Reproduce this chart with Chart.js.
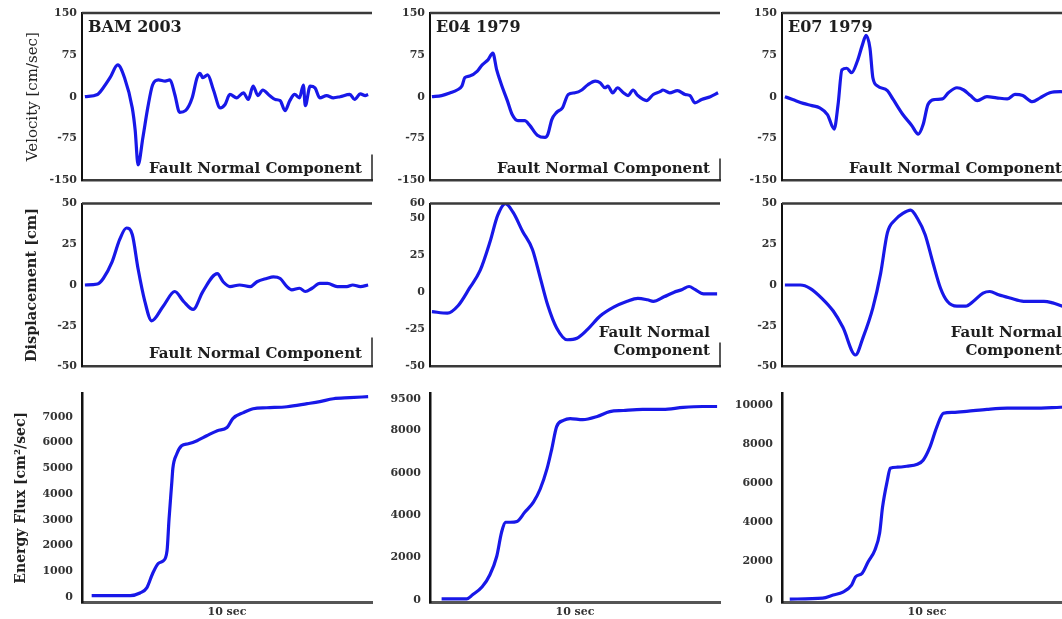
<!DOCTYPE html>
<html>
<head>
<meta charset="utf-8">
<script src="https://cdn.jsdelivr.net/npm/chart.js"></script>
<style>
  html, body { margin: 0; padding: 0; background: #fff; }
  body { width: 1062px; height: 619px; overflow: hidden; position: relative; }
  canvas { position: absolute; }
</style>
</head>
<body>
<canvas id="c11"></canvas><canvas id="c12"></canvas><canvas id="c13"></canvas>
<canvas id="c21"></canvas><canvas id="c22"></canvas><canvas id="c23"></canvas>
<canvas id="c31"></canvas><canvas id="c32"></canvas><canvas id="c33"></canvas>
<script>
// ---- data (time in sec) ----
const stations = ["BAM 2003", "E04 1979", "E07 1979"];

const bamVelT = [0.3,1.6,2.2,2.9,3.7,4.4,5.2,5.5,5.8,6.3,6.8,7.3,7.9,8.6,9.1,9.6,10.1,10.7,11.4,11.9,12.2,12.5,13.0,13.6,14.3,14.8,15.3,16.0,16.7,17.2,17.7,18.2,18.7,19.4,20.0,20.5,21.0,21.5,22.0,22.5,22.9,23.1,23.6,24.1,24.6,25.3,26.0,26.7,27.7,28.2,28.8,29.3,29.6];
const bamVel  = [0,4,16,34,57,34,-20,-60,-122,-73,-20,21,30,28,30,4,-28,-25,-2,34,42,34,39,12,-20,-14,4,-2,7,-5,19,2,12,2,-5,-7,-25,-7,4,-2,21,-16,19,16,-2,2,-2,0,4,-5,5,2,4];

const bamDispT = [0.3,1.6,2.2,3.1,3.9,4.6,5.2,5.8,6.5,7.2,8.4,9.6,10.5,11.5,12.5,14.0,14.6,15.3,16.3,17.4,18.1,19.1,19.8,20.5,21.2,21.7,22.5,23.1,23.8,24.6,25.4,26.4,27.4,28.0,28.8,29.6];
const bamDisp  = [0,0.6,4,14,28,35,31,10,-10,-22,-13,-4,-10,-15,-4,7,2,-1,0,-1,2,4,5,4,-1,-3,-2,-4,-2,1,1,-1,-1,0,-1,0];

const bamFluxT = [1.0,5.0,6.0,6.7,7.3,7.9,8.4,8.8,9.0,9.3,9.4,9.8,10.3,11.0,11.9,12.9,14.0,15.0,15.6,16.7,17.7,19.1,21.2,23.3,24.6,26.0,27.7,29.6];
const bamFlux  = [50,50,150,350,900,1300,1400,1800,3000,4500,5000,5550,5870,5950,6070,6260,6460,6580,6930,7160,7310,7350,7390,7510,7590,7700,7740,7780];

const e04VelT = [0.2,1.2,2.1,2.8,3.3,3.6,4.1,4.9,5.4,6.0,6.5,6.9,7.4,8.0,8.5,9.1,9.8,10.3,11.1,11.9,12.2,12.6,13.1,13.7,14.3,15.0,15.7,16.3,17.1,17.6,18.1,18.4,18.9,19.4,20.0,20.5,21.0,21.5,22.4,23.1,23.8,24.1,24.8,25.6,26.4,26.9,27.4,28.1,29.0,29.8];
const e04Vel  = [0,2,7,12,19,34,37,46,57,66,78,48,21,-7,-32,-43,-43,-51,-69,-73,-67,-41,-28,-20,4,7,12,21,28,25,16,19,7,16,7,2,12,2,-7,4,9,12,7,11,4,2,-11,-5,0,7];

const e04DispT = [0.2,1.8,2.9,4.1,5.2,6.2,7.0,7.8,8.6,9.6,10.6,11.4,12.2,13.1,14.2,15.2,16.3,17.6,19.0,20.4,21.5,22.5,23.1,24.2,25.2,26.1,26.8,27.4,28.3,29.7];
const e04Disp  = [-13,-14,-9,3,15,34,52,60,54,41,29,10,-9,-24,-32,-31,-25,-16,-10,-6,-4,-5,-6,-3,0,2,4,2,-1,-1];

const e04FluxT = [1.2,3.8,4.4,5.4,6.2,6.9,7.4,7.8,8.3,9.0,9.8,10.7,11.4,12.1,12.6,13.1,13.8,14.5,15.8,17.3,18.6,20.0,22.0,24.1,26.2,28.2,29.7];
const e04Flux  = [50,50,240,620,1190,2050,3190,3670,3670,3710,4140,4620,5240,6190,7140,8190,8480,8570,8520,8670,8900,8950,9000,9000,9100,9140,9140];

const e07VelT = [0.3,1.1,2.2,3.1,3.9,4.7,5.4,5.8,6.2,6.7,7.2,7.8,8.3,8.7,9.1,9.4,9.9,10.9,11.5,12.5,13.4,14.1,14.6,15.1,15.8,16.6,17.2,18.1,18.8,19.5,20.2,21.2,22.2,23.3,24.1,24.9,25.9,26.7,27.7,28.8,29.7];
const e07Vel  = [0,-5,-12,-16,-20,-32,-58,-14,48,51,43,64,92,110,87,34,19,11,-5,-32,-51,-67,-50,-14,-5,-4,7,16,12,2,-7,0,-2,-4,4,2,-9,-2,7,9,8];

const e07DispT = [0.3,1.9,2.9,4.1,5.3,6.3,7.6,8.4,9.4,10.2,10.9,11.7,12.5,13.3,14.0,14.8,15.6,16.4,17.1,18.1,19.0,19.8,20.8,21.5,22.4,23.6,25.0,26.0,27.1,28.0,29.0,29.8];
const e07Disp  = [0,0,-2,-8,-16,-26,-43,-32,-14,7,32,40,44,46,41,31,14,-2,-10,-13,-13,-10,-5,-4,-6,-8,-10,-10,-10,-11,-13,-14];

const e07FluxT = [0.8,4.2,5.3,6.3,7.2,7.6,8.3,8.9,9.6,10.1,10.4,10.9,11.2,11.9,12.9,14.0,14.6,15.3,16.0,16.7,17.7,19.1,21.2,23.3,26.0,28.8,29.8];
const e07Flux  = [50,100,260,410,770,1180,1380,1950,2560,3440,4770,6150,6770,6820,6870,6970,7180,7850,8870,9590,9640,9690,9790,9850,9850,9900,9920];

// tick labels
const velTicks = [-150, -75, 0, 75, 150];
const dispTicks = [-50, -25, 0, 25, 50];
const dispTicksE04 = [-50, -25, 0, 25, 50, 60];
const fluxTicksBam = [0, 1000, 2000, 3000, 4000, 5000, 6000, 7000];
const fluxTicksE04 = [0, 2000, 4000, 6000, 8000, 9500];
const fluxTicksE07 = [0, 2000, 4000, 6000, 8000, 10000];

const yTitles = ["Velocity [cm/sec]", "Displacement [cm]", "Energy Flux [cm\u00b2/sec]"];
const compLabel = "Fault Normal Component";
const timeLabel = "10 sec";

Chart.defaults.font.family = '"DejaVu Serif", serif';
Chart.defaults.color = '#2a2a2a';

const LINE = '#1818e8';

// frame top line, partial right edge and text inside the plot
const panelText = {
  id: 'panelText',
  afterDraw(chart, args, opts) {
    const { ctx, chartArea: a } = chart;
    ctx.save();
    if (opts.frame) {
      ctx.strokeStyle = '#3a3a3a';
      ctx.lineWidth = 2.5;
      ctx.beginPath();
      ctx.moveTo(a.left, a.top);
      ctx.lineTo(a.right, a.top);
      ctx.stroke();
      ctx.strokeStyle = '#222';
      ctx.lineWidth = 1.5;
      ctx.beginPath();
      ctx.moveTo(a.right, a.bottom - opts.stub);
      ctx.lineTo(a.right, a.bottom);
      ctx.stroke();
    }
    ctx.fillStyle = '#1e1e1e';
    if (opts.title) {
      ctx.font = 'bold 16px "DejaVu Serif"';
      ctx.textAlign = 'left';
      ctx.fillText(opts.title, a.left + 6, a.top + 19);
    }
    if (opts.label) {
      ctx.font = 'bold 15px "DejaVu Serif"';
      ctx.textAlign = 'right';
      const n = opts.label.length;
      opts.label.forEach((s, i) => {
        ctx.fillText(s, a.right - 10, a.bottom - opts.base - (n - 1 - i) * 18);
      });
    }
    ctx.restore();
  }
};

const cols = [
  { left: 0, width: 380, yw: 82, right: 8 },
  { left: 380, width: 350, yw: 50, right: 10 },
  { left: 732, width: 350, yw: 50, right: 10 }
];
const rows = [
  { top: 0, height: 192, padTop: 13, padBottom: 8, xh: 0 },
  { top: 192, height: 186, padTop: 6, padBottom: 7, xh: 0 },
  { top: 378, height: 241, padTop: 15, padBottom: 0, xh: 17 }
];
const titleFonts = [
  { size: 15, weight: 'normal', pad: 24 },
  { size: 14.5, weight: 'bold', pad: 24 },
  { size: 14, weight: 'bold', pad: 13 }
];

function makePanel(id, r, c, t, y, yMin, yMax, ticks, extra) {
  const row = rows[r], col = cols[c];
  const el = document.getElementById(id);
  el.width = col.width;
  el.height = row.height;
  el.style.left = col.left + 'px';
  el.style.top = row.top + 'px';
  const bottomRow = r === 2;
  const tf = titleFonts[r];
  const titleCfg = c === 0 ? {
    display: true,
    text: yTitles[r],
    color: '#222',
    font: { size: tf.size, weight: tf.weight },
    padding: { top: tf.pad, bottom: 0 }
  } : { display: false };

  return new Chart(el.getContext('2d'), {
    type: 'line',
    data: {
      datasets: [{
        data: t.map((v, i) => ({ x: v, y: y[i] })),
        borderColor: LINE,
        borderWidth: 3.2,
        pointRadius: 0,
        cubicInterpolationMode: 'monotone',
        fill: false
      }]
    },
    options: {
      responsive: false,
      animation: false,
      events: [],
      layout: { padding: { top: row.padTop, bottom: row.padBottom, left: 0, right: col.right } },
      scales: {
        x: {
          type: 'linear',
          min: 0,
          max: 30,
          grid: { display: false, drawTicks: false },
          border: { display: true, color: bottomRow ? '#555' : '#3a3a3a', width: bottomRow ? 3 : 2.5 },
          ticks: { display: false },
          title: bottomRow ? {
            display: true, text: timeLabel, color: '#333',
            font: { size: 11, weight: 'bold' }, padding: { top: 0, bottom: 0 }
          } : { display: false },
          afterFit: s => { s.height = row.xh; }
        },
        y: {
          min: yMin,
          max: yMax,
          grid: { display: false, drawTicks: false },
          border: { display: true, color: '#111', width: bottomRow ? 2.5 : 2 },
          ticks: {
            color: '#333',
            padding: bottomRow ? 9 : 5,
            font: { size: 11, weight: 'bold' },
            callback: v => String(v)
          },
          afterBuildTicks: s => { s.ticks = ticks.map(v => ({ value: v })); },
          title: titleCfg,
          afterFit: s => { s.width = col.yw; }
        }
      },
      plugins: {
        legend: { display: false },
        tooltip: { enabled: false },
        panelText: extra
      }
    },
    plugins: [panelText]
  });
}

// velocity row
makePanel('c11', 0, 0, bamVelT, bamVel, -150, 150, velTicks,
  { frame: true, stub: 26, title: stations[0], label: [compLabel], base: 7 });
makePanel('c12', 0, 1, e04VelT, e04Vel, -150, 150, velTicks,
  { frame: true, stub: 22, title: stations[1], label: [compLabel], base: 7 });
makePanel('c13', 0, 2, e07VelT, e07Vel, -150, 150, velTicks,
  { frame: true, stub: 22, title: stations[2], label: [compLabel], base: 7 });

// displacement row
makePanel('c21', 1, 0, bamDispT, bamDisp, -50, 50, dispTicks,
  { frame: true, stub: 29, label: [compLabel], base: 8 });
makePanel('c22', 1, 1, e04DispT, e04Disp, -50, 60, dispTicksE04,
  { frame: true, stub: 24, label: ["Fault Normal", "Component"], base: 11 });
makePanel('c23', 1, 2, e07DispT, e07Disp, -50, 50, dispTicks,
  { frame: true, stub: 24, label: ["Fault Normal", "Component"], base: 11 });

// energy flux row
makePanel('c31', 2, 0, bamFluxT, bamFlux, -200, 7900, fluxTicksBam, { frame: false });
makePanel('c32', 2, 1, e04FluxT, e04Flux, -100, 9750, fluxTicksE04, { frame: false });
makePanel('c33', 2, 2, e07FluxT, e07Flux, -100, 10600, fluxTicksE07, { frame: false });
</script>
</body>
</html>
